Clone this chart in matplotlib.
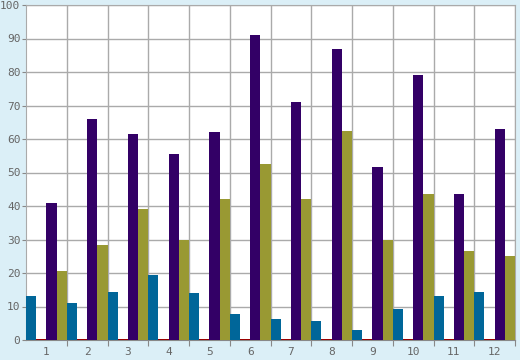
import matplotlib
matplotlib.use("Agg")
from matplotlib import pyplot as plt
import numpy as np

months = ["1", "2", "3", "4", "5", "6", "7", "8", "9", "10", "11", "12"]
blue = [13.1, 11.0, 14.3, 19.3, 14.0, 7.9, 6.3, 5.7, 3.0, 9.3, 13.1, 14.4]
red = [0.4] * 12
purple = [41, 66, 61.5, 55.5, 62, 91, 71, 87, 51.5, 79, 43.5, 63]
olive = [20.5, 28.5, 39, 30, 42, 52.5, 42, 62.5, 30, 43.5, 26.5, 25]

series = [blue, red, purple, olive]
colors = ["#006699", "#990000", "#330066", "#999933"]

fig = plt.figure(figsize=(5.2, 3.6), dpi=100, facecolor="#dbeff7")
ax = fig.add_axes([26 / 520, 20 / 360, 489 / 520, 335 / 360])
ax.set_facecolor("white")

x = np.arange(1, len(months) + 1)
w = 0.25
for k, (vals, c) in enumerate(zip(series, colors)):
    ax.bar(x - 0.5 + w / 2 + k * w, vals, width=w, color=c, zorder=3)

ax.set_xlim(0.5, 12.5)
ax.set_ylim(0, 100)
ax.set_yticks(range(0, 101, 10))

ax.set_xticks(np.arange(1.5, 12.6, 1))
ax.set_xticklabels([])
ax.set_xticks(x, minor=True)
ax.set_xticklabels(months, minor=True)
ax.tick_params(axis="x", which="minor", length=0, pad=5)
ax.tick_params(axis="x", which="major", length=4, color="#888888")
ax.tick_params(axis="y", length=3, color="#888888", pad=1)
ax.tick_params(which="both", labelsize=8, labelcolor="#666666")
for lab in ax.get_xticklabels(minor=True) + ax.get_yticklabels():
    lab.set_family("DejaVu Sans Mono")

ax.grid(True, which="major", color="#aaaaaa", linewidth=1, zorder=0)
for s in ax.spines.values():
    s.set_color("#aaaaaa")
ax.spines["bottom"].set_color("#888888")

fig.savefig("out.png", dpi=100, facecolor=fig.get_facecolor())
